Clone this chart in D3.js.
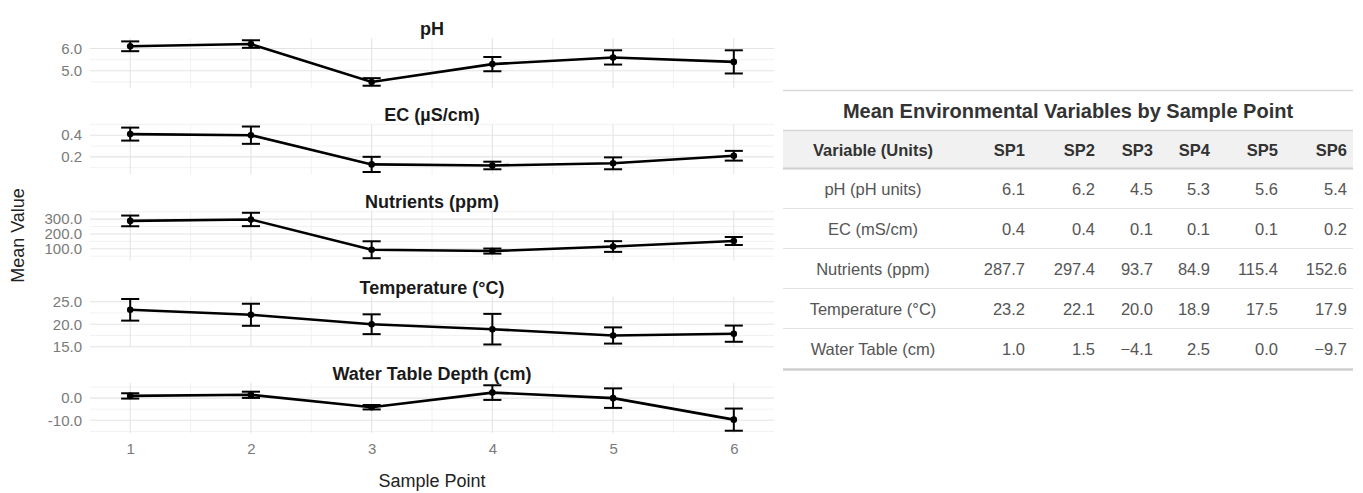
<!DOCTYPE html>
<html>
<head>
<meta charset="utf-8">
<script src="https://cdn.jsdelivr.net/npm/d3@7"></script>
<style>
  html, body { margin: 0; padding: 0; background: #fff; }
  svg { display: block; font-family: "Liberation Sans", Arial, sans-serif; }
</style>
</head>
<body>
<svg id="chart" width="1363" height="493"></svg>
<script>
// ---------- data ----------
const samplePoints = [1, 2, 3, 4, 5, 6];
const sampleLabels = ["SP1", "SP2", "SP3", "SP4", "SP5", "SP6"];

const phMean   = [6.1, 6.2, 4.5, 5.3, 5.6, 5.4];
const phSD     = [0.22, 0.17, 0.17, 0.32, 0.32, 0.52];
const ecMean   = [0.41, 0.40, 0.13, 0.12, 0.14, 0.21];
const ecSD     = [0.06, 0.08, 0.07, 0.035, 0.055, 0.045];
const nutMean  = [287.7, 297.4, 93.7, 84.9, 115.4, 152.6];
const nutSD    = [36, 45, 57, 17, 36, 27];
const tempMean = [23.2, 22.1, 20.0, 18.9, 17.5, 17.9];
const tempSD   = [2.4, 2.45, 2.2, 3.4, 1.8, 1.8];
const wtMean   = [1.0, 1.5, -4.1, 2.5, 0.0, -9.7];
const wtSD     = [1.2, 1.4, 1.0, 3.3, 4.4, 5.0];

const phTicks   = [5, 6];
const ecTicks   = [0.2, 0.4];
const nutTicks  = [100, 200, 300];
const tempTicks = [15, 20, 25];
const wtTicks   = [-10, 0];
const xTicks    = [1, 2, 3, 4, 5, 6];

const panelTitles = ["pH", "EC (\u00b5S/cm)", "Nutrients (ppm)", "Temperature (\u00b0C)", "Water Table Depth (cm)"];
const tableVarLabels = ["pH (pH units)", "EC (mS/cm)", "Nutrients (ppm)", "Temperature (\u00b0C)", "Water Table (cm)"];

const panels = [
  { title: panelTitles[0], mean: phMean,   sd: phSD,   ticks: phTicks },
  { title: panelTitles[1], mean: ecMean,   sd: ecSD,   ticks: ecTicks },
  { title: panelTitles[2], mean: nutMean,  sd: nutSD,  ticks: nutTicks },
  { title: panelTitles[3], mean: tempMean, sd: tempSD, ticks: tempTicks },
  { title: panelTitles[4], mean: wtMean,   sd: wtSD,   ticks: wtTicks }
];

// ---------- layout ----------
const svg = d3.select("#chart");
const plotLeft = 90, plotRight = 774;
const panelTop0 = 38, panelPitch = 86.25, panelH = 50;
const capW = 0.15;

const x = d3.scaleLinear().domain([0.667, 6.333]).range([plotLeft, plotRight]);

const gridMajor = "#e4e4e4", gridMinor = "#efefef";
const tickColor = "#7a7a7a";

const fmtAxis = v => d3.format(".1f")(v).replace("\u2212", "-");

panels.forEach((p, i) => {
  const top = panelTop0 + i * panelPitch;
  const bottom = top + panelH;
  const lo = d3.min(p.mean.map((m, j) => m - p.sd[j]));
  const hi = d3.max(p.mean.map((m, j) => m + p.sd[j]));
  const pad = (hi - lo) * 0.05;
  const y = d3.scaleLinear().domain([lo - pad, hi + pad]).range([bottom, top]);
  const g = svg.append("g");

  // minor horizontal grid
  const step = p.ticks[1] - p.ticks[0];
  const minors = [];
  for (let v = p.ticks[0] - step / 2; v <= p.ticks[p.ticks.length - 1] + step / 2 + 1e-9; v += step) minors.push(v);
  g.selectAll(".hmin").data(minors.filter(v => v >= y.domain()[0] && v <= y.domain()[1]))
    .enter().append("line")
    .attr("x1", plotLeft).attr("x2", plotRight)
    .attr("y1", d => y(d)).attr("y2", d => y(d))
    .attr("stroke", gridMinor).attr("stroke-width", 0.8);
  // minor vertical grid
  const xMinors = [1.5, 2.5, 3.5, 4.5, 5.5];
  g.selectAll(".vmin").data(xMinors).enter().append("line")
    .attr("x1", d => x(d)).attr("x2", d => x(d))
    .attr("y1", top).attr("y2", bottom)
    .attr("stroke", gridMinor).attr("stroke-width", 0.8);
  // major grid
  g.selectAll(".hmaj").data(p.ticks).enter().append("line")
    .attr("x1", plotLeft).attr("x2", plotRight)
    .attr("y1", d => y(d)).attr("y2", d => y(d))
    .attr("stroke", gridMajor).attr("stroke-width", 1.1);
  g.selectAll(".vmaj").data(xTicks).enter().append("line")
    .attr("x1", d => x(d)).attr("x2", d => x(d))
    .attr("y1", top).attr("y2", bottom)
    .attr("stroke", gridMajor).attr("stroke-width", 1.1);

  // y axis labels
  const yAxis = d3.axisLeft(y).tickValues(p.ticks).tickFormat(fmtAxis).tickSize(0).tickPadding(8);
  const ag = g.append("g").attr("transform", `translate(${plotLeft},0)`).call(yAxis);
  ag.select(".domain").remove();
  ag.selectAll("text").attr("fill", tickColor).style("font-size", "15px")
    .style("font-family", "'Liberation Sans', Arial, sans-serif");

  // strip title
  g.append("text").attr("x", (plotLeft + plotRight) / 2).attr("y", top - 3)
    .attr("text-anchor", "middle").attr("font-weight", "bold")
    .attr("font-size", 18).attr("fill", "#1a1a1a").text(p.title);

  const pts = samplePoints.map((s, j) => ({ s, m: p.mean[j], sd: p.sd[j] }));

  // line
  g.append("path").datum(pts)
    .attr("d", d3.line().x(d => x(d.s)).y(d => y(d.m)))
    .attr("fill", "none").attr("stroke", "#000").attr("stroke-width", 2.6);

  // error bars
  const eb = g.selectAll(".eb").data(pts).enter().append("g");
  eb.append("line").attr("x1", d => x(d.s)).attr("x2", d => x(d.s))
    .attr("y1", d => y(d.m - d.sd)).attr("y2", d => y(d.m + d.sd))
    .attr("stroke", "#000").attr("stroke-width", 2);
  eb.append("line").attr("x1", d => x(d.s - capW / 2)).attr("x2", d => x(d.s + capW / 2))
    .attr("y1", d => y(d.m - d.sd)).attr("y2", d => y(d.m - d.sd))
    .attr("stroke", "#000").attr("stroke-width", 2);
  eb.append("line").attr("x1", d => x(d.s - capW / 2)).attr("x2", d => x(d.s + capW / 2))
    .attr("y1", d => y(d.m + d.sd)).attr("y2", d => y(d.m + d.sd))
    .attr("stroke", "#000").attr("stroke-width", 2);
  // points
  g.selectAll(".pt").data(pts).enter().append("circle")
    .attr("cx", d => x(d.s)).attr("cy", d => y(d.m)).attr("r", 3.3).attr("fill", "#000");
});

// x axis labels
const lastBottom = panelTop0 + 4 * panelPitch + panelH;
const xAxis = d3.axisBottom(x).tickValues(xTicks).tickFormat(d3.format("d")).tickSize(0).tickPadding(10);
const xg = svg.append("g").attr("transform", `translate(0,${lastBottom})`).call(xAxis);
xg.select(".domain").remove();
xg.selectAll("text").attr("fill", tickColor).style("font-size", "15px")
  .style("font-family", "'Liberation Sans', Arial, sans-serif");

svg.append("text").attr("x", (plotLeft + plotRight) / 2).attr("y", 487)
  .attr("text-anchor", "middle").attr("font-size", 18).attr("fill", "#222").text("Sample Point");
const midY = (panelTop0 + lastBottom) / 2;
svg.append("text").attr("transform", `translate(24,${midY}) rotate(-90)`)
  .attr("text-anchor", "middle").attr("font-size", 18).attr("fill", "#222").text("Mean Value");

// ---------- table ----------
const tLeft = 783, tRight = 1353;
const tg = svg.append("g");
tg.append("line").attr("x1", tLeft).attr("x2", tRight).attr("y1", 90.5).attr("y2", 90.5)
  .attr("stroke", "#d9d9d9").attr("stroke-width", 1.5);
tg.append("text").attr("x", (tLeft + tRight) / 2).attr("y", 118)
  .attr("text-anchor", "middle").attr("font-weight", "bold").attr("font-size", 20)
  .attr("fill", "#333").text("Mean Environmental Variables by Sample Point");

const headerTop = 130.5, headerBot = 168.5, rowH = 40;
tg.append("rect").attr("x", tLeft).attr("y", headerTop).attr("width", tRight - tLeft)
  .attr("height", headerBot - headerTop).attr("fill", "#f1f1f1");
tg.append("line").attr("x1", tLeft).attr("x2", tRight).attr("y1", headerTop).attr("y2", headerTop)
  .attr("stroke", "#d6d6d6").attr("stroke-width", 1.5);
tg.append("line").attr("x1", tLeft).attr("x2", tRight).attr("y1", headerBot).attr("y2", headerBot)
  .attr("stroke", "#cfcfcf").attr("stroke-width", 2);

const varColX = 873;
const colRight = [1025, 1095, 1153, 1210, 1278, 1347];
const textSize = 16.5;

tg.append("text").attr("x", varColX).attr("y", (headerTop + headerBot) / 2 + 6)
  .attr("text-anchor", "middle").attr("font-weight", "bold").attr("font-size", textSize)
  .attr("fill", "#333").text("Variable (Units)");
tg.selectAll(".hd").data(sampleLabels).enter().append("text")
  .attr("x", (d, i) => colRight[i]).attr("y", (headerTop + headerBot) / 2 + 6)
  .attr("text-anchor", "end").attr("font-weight", "bold").attr("font-size", textSize)
  .attr("fill", "#333").text(d => d);

const fmtT = d3.format(".1f");
panels.forEach((p, r) => {
  const rTop = headerBot + r * rowH;
  const cy = rTop + rowH / 2 + 6;
  tg.append("text").attr("x", varColX).attr("y", cy).attr("text-anchor", "middle")
    .attr("font-size", textSize).attr("fill", "#555").text(tableVarLabels[r]);
  tg.selectAll(".v" + r).data(p.mean).enter().append("text")
    .attr("x", (d, i) => colRight[i]).attr("y", cy).attr("text-anchor", "end")
    .attr("font-size", textSize).attr("fill", "#555").text(d => fmtT(d));
  const last = r === panels.length - 1;
  tg.append("line").attr("x1", tLeft).attr("x2", tRight)
    .attr("y1", rTop + rowH + (last ? 1 : 0)).attr("y2", rTop + rowH + (last ? 1 : 0))
    .attr("stroke", last ? "#cfcfcf" : "#e2e2e2").attr("stroke-width", last ? 2.5 : 1.2);
});
</script>
</body>
</html>
